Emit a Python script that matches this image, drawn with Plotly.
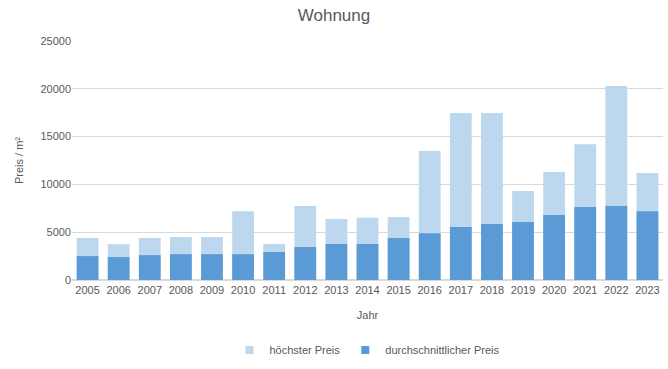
import plotly.graph_objects as go

years = [str(y) for y in range(2005, 2024)]
hoechster = [4400, 3750, 4400, 4500, 4500, 7200, 3770, 7740, 6380, 6500, 6600,
             13500, 17470, 17470, 9300, 11300, 14200, 20300, 11200]
durchschnitt = [2500, 2400, 2600, 2700, 2700, 2700, 2930, 3450, 3770, 3770, 4400,
                4900, 5540, 5860, 6070, 6800, 7640, 7740, 7200]
series_names = ["höchster Preis", "durchschnittlicher Preis"]
colors = ["#BDD7EE", "#5B9BD5"]

font = "Liberation Sans"
grey = "#595959"

fig = go.Figure()
for vals, name, col in zip([hoechster, durchschnitt], series_names, colors):
    fig.add_trace(go.Bar(x=years, y=vals, name=name, showlegend=False,
                         marker=dict(color=col, line=dict(width=0))))
# legend entries with small square symbols
for name, col in zip(series_names, colors):
    fig.add_trace(go.Scatter(x=[None], y=[None], mode="markers", name=name,
                             marker=dict(symbol="square", size=8, color=col)))

fig.update_layout(
    width=668, height=369,
    barmode="overlay", bargap=0.3,
    paper_bgcolor="white", plot_bgcolor="white",
    margin=dict(l=72, r=5, t=41, b=89),
    font=dict(family=font, color=grey, size=11),
    title=dict(text="Wohnung", x=0.5, xanchor="center", y=0.96, yanchor="middle",
               font=dict(size=17, color=grey, family=font)),
    xaxis=dict(title=dict(text="Jahr", font=dict(size=11, color=grey), standoff=16),
               showgrid=False, showline=True, linecolor="#d9d9d9", ticks="",
               tickfont=dict(size=11, color=grey)),
    yaxis=dict(title=dict(text="Preis / m²", font=dict(size=11, color=grey), standoff=14),
               range=[0, 25000], dtick=5000, tickformat="d",
               showgrid=True, gridcolor="#d9d9d9", zeroline=True, zerolinecolor="#d9d9d9",
               tickfont=dict(size=11, color=grey)),
    legend=dict(orientation="h", x=0.5, xanchor="center", y=-0.293, yanchor="middle",
                font=dict(size=11, color=grey), traceorder="normal", itemwidth=30),
)

fig.write_html("out.html")
